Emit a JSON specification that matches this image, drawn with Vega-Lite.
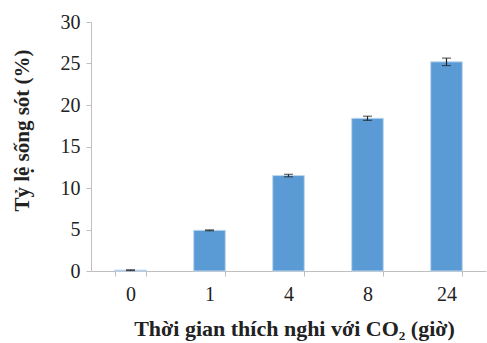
{
  "$schema": "https://vega.github.io/schema/vega-lite/v6.json",
  "width": 395,
  "height": 249,
  "autosize": {"type": "none"},
  "padding": {"left": 91, "top": 22, "right": 1, "bottom": 72},
  "background": "white",
  "config": {"view": {"stroke": null}, "font": "Liberation Serif"},
  "data": {"values": [
    {"t": "0", "v": 0.1, "lo": 0.05, "hi": 0.15},
    {"t": "1", "v": 4.9, "lo": 4.85, "hi": 4.95},
    {"t": "4", "v": 11.5, "lo": 11.35, "hi": 11.65},
    {"t": "8", "v": 18.4, "lo": 18.15, "hi": 18.65},
    {"t": "24", "v": 25.2, "lo": 24.75, "hi": 25.65}
  ]},
  "encoding": {
    "x": {"field": "t", "type": "ordinal", "sort": null,
      "scale": {"paddingInner": 0.6, "paddingOuter": 0.3},
      "axis": {"title": "Thời gian thích nghi với CO₂ (giờ)", "labelAngle": 0,
        "labelFont": "Liberation Serif", "labelFontSize": 20, "labelColor": "#222",
        "labelPadding": 8, "titleFont": "Liberation Serif", "titleFontSize": 22,
        "titleFontWeight": "bold", "titleColor": "#222", "titlePadding": 14, "titleX": 203,
        "tickBand": "extent", "tickSize": 5, "tickColor": "#bfbfbf", "domainColor": "#bfbfbf"}}
  },
  "layer": [
    {"mark": {"type": "bar", "color": "#5b9bd5", "stroke": "#bdd7ee", "strokeWidth": 1},
     "encoding": {
       "y": {"field": "v", "type": "quantitative",
         "scale": {"domain": [0, 30]},
         "axis": {"title": "Tỷ lệ sống sót (%)", "values": [0, 5, 10, 15, 20, 25, 30],
           "grid": false, "labelFont": "Liberation Serif", "labelFontSize": 20,
           "labelColor": "#222", "labelPadding": 6, "titleFont": "Liberation Serif",
           "titleFontSize": 21, "titleFontWeight": "bold", "titleColor": "#222",
           "titleX": -69, "titleY": 108, "titleBaseline": "middle",
           "tickSize": 5, "tickColor": "#bfbfbf", "domainColor": "#bfbfbf"}}
     }},
    {"mark": {"type": "rule", "color": "#222", "strokeWidth": 1.2},
     "encoding": {"y": {"field": "lo", "type": "quantitative"}, "y2": {"field": "hi"}}},
    {"mark": {"type": "tick", "color": "#222", "size": 9, "thickness": 1.2, "orient": "horizontal"},
     "encoding": {"y": {"field": "lo", "type": "quantitative"}}},
    {"mark": {"type": "tick", "color": "#222", "size": 9, "thickness": 1.2, "orient": "horizontal"},
     "encoding": {"y": {"field": "hi", "type": "quantitative"}}}
  ]
}
